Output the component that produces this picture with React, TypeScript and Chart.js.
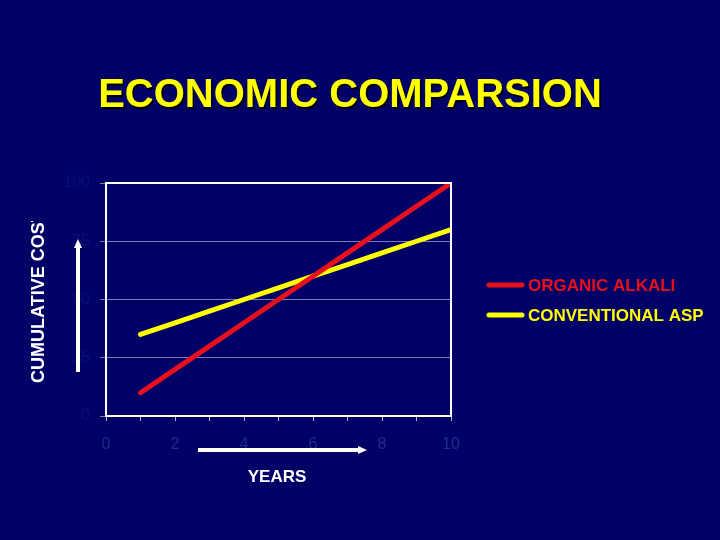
import React, { useEffect, useRef } from "react";
import { Chart, registerables } from "chart.js";

Chart.register(...registerables);

const title = "ECONOMIC COMPARSION";
const yAxisTitle = "CUMULATIVE COST";
const xAxisTitle = "YEARS";
const years = [1, 2, 3, 4, 5, 6, 7, 8, 9, 10];
const organicAlkali = [10, 20, 30, 40, 50, 60, 70, 80, 90, 100];
const conventionalASP = [35, 40, 45, 50, 55, 60, 65, 70, 75, 80];
const seriesNames = ["ORGANIC ALKALI", "CONVENTIONAL ASP"];
const seriesColors = ["#e8101c", "#ffff00"];
const yTicks = [0, 25, 50, 75, 100];
const xTickLabels = [0, 2, 4, 6, 8, 10];

const BG = "#000066";

const decorPlugin = {
  id: "decor",
  afterDatasetsDraw(chart: any) {
    const { ctx, chartArea } = chart;
    const { left, top, right, bottom } = chartArea;
    ctx.save();
    ctx.strokeStyle = "#ffffff";
    ctx.lineWidth = 2;
    ctx.strokeRect(left, top, right - left, bottom - top);
    ctx.restore();
  },
  afterDraw(chart: any) {
    const { ctx } = chart;
    ctx.save();
    // title with shadow
    ctx.font = "bold 40px 'Liberation Sans', Arial, sans-serif";
    ctx.textAlign = "center";
    ctx.textBaseline = "alphabetic";
    ctx.fillStyle = "#000000";
    ctx.fillText(title, 351.5, 108.5);
    ctx.fillStyle = "#ffff00";
    ctx.fillText(title, 350, 107);

    // y axis title (clipped at top like the reference)
    ctx.save();
    ctx.beginPath();
    ctx.rect(0, 221, 120, 300);
    ctx.clip();
    ctx.translate(44, 383);
    ctx.rotate(-Math.PI / 2);
    ctx.font = "bold 18px 'Liberation Sans', Arial, sans-serif";
    ctx.textAlign = "left";
    ctx.textBaseline = "alphabetic";
    ctx.fillStyle = "#ffffff";
    ctx.fillText(yAxisTitle, 0, 0);
    ctx.restore();

    // x axis title
    ctx.font = "bold 17px 'Liberation Sans', Arial, sans-serif";
    ctx.textAlign = "center";
    ctx.textBaseline = "middle";
    ctx.fillStyle = "#ffffff";
    ctx.fillText(xAxisTitle, 277, 477);

    // arrows
    ctx.fillStyle = "#ffffff";
    ctx.fillRect(76, 246, 4, 126);
    ctx.beginPath();
    ctx.moveTo(74, 248);
    ctx.lineTo(78, 239);
    ctx.lineTo(82, 248);
    ctx.closePath();
    ctx.fill();

    ctx.fillRect(198, 448, 162, 4);
    ctx.beginPath();
    ctx.moveTo(358, 446);
    ctx.lineTo(367, 450);
    ctx.lineTo(358, 454);
    ctx.closePath();
    ctx.fill();

    // legend
    const legendY = [285, 315];
    seriesNames.forEach((name, i) => {
      ctx.strokeStyle = seriesColors[i];
      ctx.lineWidth = 5;
      ctx.lineCap = "round";
      ctx.beginPath();
      ctx.moveTo(489, legendY[i]);
      ctx.lineTo(522, legendY[i]);
      ctx.stroke();
      ctx.font = "bold 17px 'Liberation Sans', Arial, sans-serif";
      ctx.textAlign = "left";
      ctx.textBaseline = "middle";
      ctx.fillStyle = seriesColors[i];
      ctx.fillText(name, 528, legendY[i] + 1);
    });
    ctx.restore();
  },
};

export default function App() {
  const ref = useRef<HTMLCanvasElement | null>(null);
  useEffect(() => {
    if (!ref.current) return;
    const chart = new Chart(ref.current, {
      type: "line",
      data: {
        labels: years,
        datasets: [
          {
            label: seriesNames[0],
            data: years.map((x, i) => ({ x, y: organicAlkali[i] })),
            borderColor: seriesColors[0],
            borderWidth: 5,
            borderCapStyle: "round",
            pointRadius: 0,
            tension: 0,
          },
          {
            label: seriesNames[1],
            data: years.map((x, i) => ({ x, y: conventionalASP[i] })),
            borderColor: seriesColors[1],
            borderWidth: 5,
            borderCapStyle: "round",
            pointRadius: 0,
            tension: 0,
          },
        ],
      },
      options: {
        responsive: false,
        animation: false,
        events: [],
        layout: { padding: { left: 66, top: 183, right: 269, bottom: 84 } },
        plugins: {
          legend: { display: false },
          tooltip: { enabled: false },
          title: { display: false },
        },
        scales: {
          x: {
            type: "linear",
            min: 0,
            max: 10,
            afterFit: (s: any) => {
              s.height = 40;
            },
            afterBuildTicks: (s: any) => {
              s.ticks = Array.from({ length: 11 }, (_, i) => ({ value: i }));
            },
            ticks: {
              autoSkip: false,
              maxRotation: 0,
              padding: 14,
              color: "#1e2c86",
              font: { family: "'Liberation Sans', Arial, sans-serif", size: 16 },
              callback: (v: any) => (xTickLabels.includes(Number(v)) ? String(v) : ""),
            },
            grid: {
              drawOnChartArea: false,
              drawTicks: true,
              tickLength: 5,
              color: "#b8b8d8",
              lineWidth: 1,
            },
            border: { display: false },
          },
          y: {
            type: "linear",
            min: 0,
            max: 100,
            afterFit: (s: any) => {
              s.width = 40;
            },
            afterBuildTicks: (s: any) => {
              s.ticks = yTicks.map((v) => ({ value: v }));
            },
            ticks: {
              padding: 10,
              color: "#0a1072",
              font: { family: "'Liberation Sans', Arial, sans-serif", size: 16 },
            },
            grid: {
              color: "#7c7cb4",
              lineWidth: 1,
              tickLength: 6,
            },
            border: { display: false },
          },
        },
      },
      plugins: [decorPlugin],
    } as any);
    return () => chart.destroy();
  }, []);

  return (
    <div
      style={{
        position: "absolute",
        left: 0,
        top: 0,
        width: 720,
        height: 540,
        background: BG,
      }}
    >
      <canvas ref={ref} width={720} height={540} style={{ display: "block" }} />
    </div>
  );
}
